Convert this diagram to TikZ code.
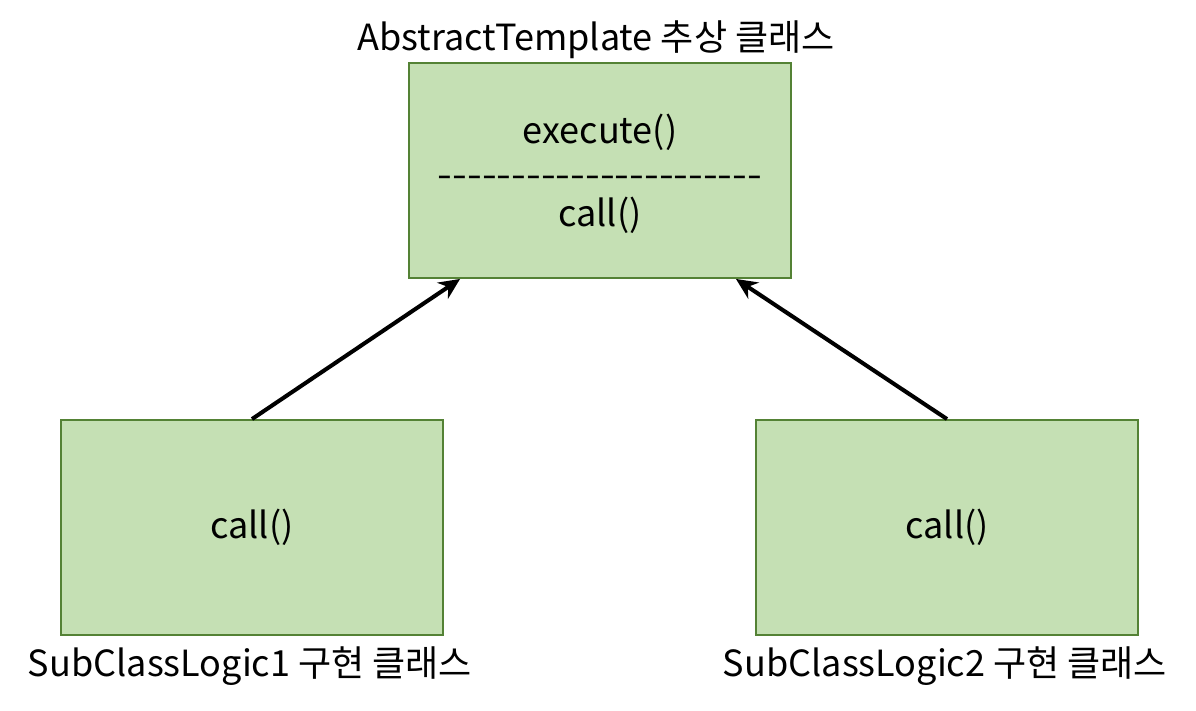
\documentclass[tikz,border=0pt]{standalone}
\usepackage{fontspec}
\setmainfont{Noto Sans CJK KR}
\usepackage{tikz}
\usetikzlibrary{arrows.meta,positioning}
\definecolor{boxfill}{HTML}{C5E0B4}
\definecolor{boxline}{HTML}{548235}

\begin{document}
\begin{tikzpicture}[x=0.02cm, y=-0.02cm, font=\fontsize{20.5}{24}\selectfont,
    cls/.style={draw=boxline, fill=boxfill, line width=1.1pt, minimum width=7.64cm, minimum height=4.3cm, inner sep=0pt}]
    \useasboundingbox (0,0) rectangle (1196,710);
    \node[cls] (t) at (600,170.5) {};
    \node[cls] (l) at (252,527.5) {};
    \node[cls] (r) at (947,527.5) {};
    \node (tname) at (596,40) {AbstractTemplate 추상 클래스};
    \node (exe) at (600,132) {execute()};
    \node (sep) at (600,182) {\scalebox{1.18}[1]{\addfontfeature{Mapping=}----------------------}};
    \node (tcall) at (600,215) {call()};
    \node (lcall) at (252,527) {call()};
    \node (rcall) at (947,527) {call()};
    \node (lname) at (250,666) {SubClassLogic1 구현 클래스};
    \node (rname) at (945,666) {SubClassLogic2 구현 클래스};
    \draw[->, >={Stealth[length=12pt, width=11pt]}, line width=2.3pt] (l.north) -- ([xshift=1.04cm]t.south west);
    \draw[->, >={Stealth[length=12pt, width=11pt]}, line width=2.3pt] (r.north) -- ([xshift=-1.12cm]t.south east);
\end{tikzpicture}
\end{document}
